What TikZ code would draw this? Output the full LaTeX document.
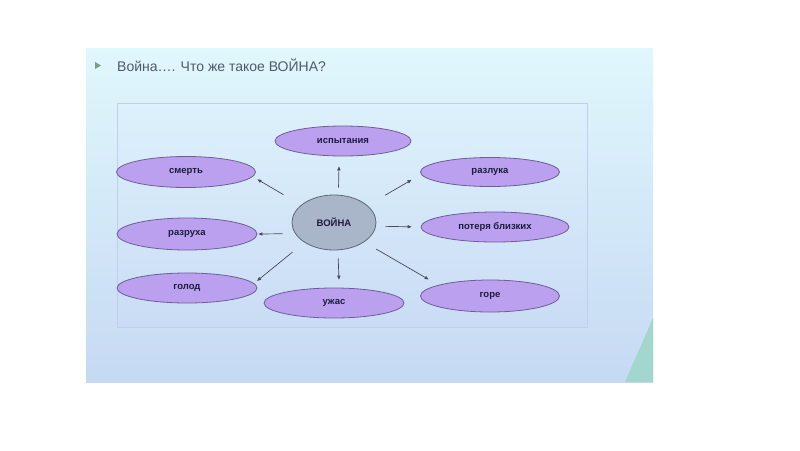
\documentclass[tikz,border=0pt]{standalone}
\usepackage{fontspec}
\setmainfont{Liberation Sans}
\usetikzlibrary{shapes.geometric,arrows.meta}
\definecolor{slidetop}{HTML}{E0F7FC}
\definecolor{slidebot}{HTML}{C6D9F3}
\definecolor{boxtop}{HTML}{DCF1FB}
\definecolor{boxbot}{HTML}{CADCF5}
\definecolor{boxline}{HTML}{C4CCF0}
\definecolor{leaffill}{HTML}{BBA0F0}
\definecolor{leafdraw}{HTML}{6E5E96}
\definecolor{hubfill}{HTML}{A9B5C9}
\definecolor{hubdraw}{HTML}{5F6878}
\definecolor{labeltext}{HTML}{1C1C3C}
\definecolor{titlecol}{HTML}{505A66}
\definecolor{bulletcol}{HTML}{7A9A8A}
\definecolor{arrcol}{HTML}{4A4A58}
\definecolor{tealdeco}{HTML}{A3D6CC}
\tikzset{
  leaf/.style={ellipse, draw=leafdraw, fill=leaffill, line width=0.8pt, text=labeltext,
    font=\bfseries\fontsize{9.5}{11}\selectfont, inner sep=0pt, minimum width=139pt, minimum height=30pt},
  hub/.style={ellipse, draw=hubdraw, fill=hubfill, line width=0.8pt, text=labeltext,
    font=\bfseries\fontsize{9.5}{11}\selectfont, inner sep=0pt, minimum width=84pt, minimum height=55pt},
  arr/.style={draw=arrcol, line width=0.7pt, -{Triangle[length=4pt,width=3.2pt]}}
}
\begin{document}
\begin{tikzpicture}[x=1pt,y=-1pt]
\useasboundingbox (0,0) rectangle (800,450);
\fill[white] (0,0) rectangle (800,450);
% slide
\shade[top color=slidetop,bottom color=slidebot] (86,48) rectangle (653,382);
\fill[tealdeco] (625,382) -- (653,318) -- (653,382) -- cycle;
% title
\fill[bulletcol] (95,62) -- (101,65.5) -- (95,69) -- cycle;
\node[anchor=base west, inner sep=0pt, text=titlecol, font=\fontsize{14}{16}\selectfont] (title) at (117,71.5) {Война…. Что же такое ВОЙНА?};
% diagram frame
\shade[top color=boxtop,bottom color=boxbot] (117,103) rectangle (587,327);
\draw[boxline, line width=0.8pt] (117,103) rectangle (587,327);
% nodes
\node[hub] (war) at (334,222.5) {ВОЙНА};
\node[leaf, minimum width=136pt] (isp) at (343,141) {испытания};
\node[leaf, minimum height=31pt] (smert) at (186,172) {смерть};
\node[leaf, minimum height=29pt] (razluka) at (490,172) {разлука};
\node[leaf, minimum width=148pt] (poterya) at (495,227) {потеря близких};
\node[leaf, minimum width=140pt, minimum height=32pt] (razrukha) at (187,234) {разруха};
\node[leaf, minimum width=140pt] (golod) at (187,288) {голод};
\node[leaf, minimum width=140pt] (uzhas) at (334,303) {ужас};
\node[leaf, minimum height=32pt] (gore) at (490,296) {горе};
% connectors
\draw[arr, shorten <=7.2pt, shorten >=10pt] (war.81.8) -- (isp.-104.9);
\draw[arr, shorten <=20.4pt, shorten >=5.3pt] (war.152.5) -- (smert.-4.6);
\draw[arr, shorten <=20.4pt, shorten >=11pt] (war.27.5) -- (razluka.182);
\draw[arr, shorten <=9.4pt, shorten >=9pt] (war.-5) -- (poterya.west);
\draw[arr, shorten <=12.5pt, shorten >=1pt] (war.196) -- (razrukha.east);
\draw[arr, shorten <=15.5pt, shorten >=3.9pt] (war.214.2) -- (golod.4.9);
\draw[arr, shorten <=8.2pt, shorten >=8pt] (war.-82) -- (uzhas.71.6);
\draw[arr, shorten <=14pt, shorten >=11.1pt] (war.-33.8) -- (gore.168.7);
\end{tikzpicture}
\end{document}
